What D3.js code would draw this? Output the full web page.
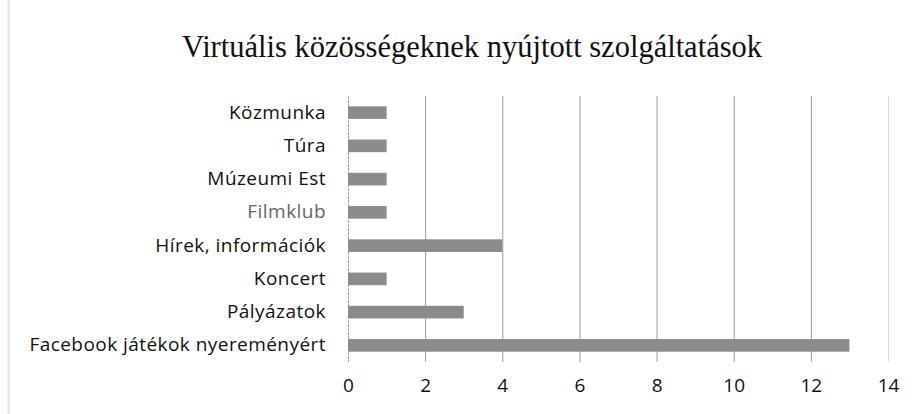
<!DOCTYPE html>
<html>
<head>
<meta charset="utf-8">
<script src="https://cdn.jsdelivr.net/npm/d3@7"></script>
<style>
  body { margin: 0; background: #fff; }
  svg { display: block; }
</style>
</head>
<body>
<svg id="chart" width="917" height="414"></svg>
<script>
// data, top to bottom
var categories = ["Közmunka", "Túra", "Múzeumi Est", "Filmklub", "Hírek, információk", "Koncert", "Pályázatok", "Facebook játékok nyereményért"];
var values = [1, 1, 1, 1, 4, 1, 3, 13];
var xTicks = [0, 2, 4, 6, 8, 10, 12, 14];

var svg = d3.select("#chart");

// faint page border at the left
svg.append("line")
    .attr("x1", 8.5).attr("x2", 8.5)
    .attr("y1", 0).attr("y2", 414)
    .style("stroke", "#e2e2e2")
    .style("stroke-width", 2);

var x = d3.scaleLinear().domain([0, 14]).range([348, 888]);
var y = d3.scaleBand().domain(categories).range([96, 362]).paddingInner(0.62).paddingOuter(0.31);

// title
svg.append("text")
    .attr("x", 472)
    .attr("y", 57)
    .attr("text-anchor", "middle")
    .style("font-family", "'Liberation Serif', 'Times New Roman', serif")
    .style("font-size", "30.5px")
    .style("fill", "#111")
    .text("Virtuális közösségeknek nyújtott szolgáltatások");

// vertical gridlines
svg.append("g")
    .selectAll("line")
    .data(xTicks)
    .enter().append("line")
    .attr("x1", function(d) { return x(d) + 0.5; })
    .attr("x2", function(d) { return x(d) + 0.5; })
    .attr("y1", 96)
    .attr("y2", 362)
    .style("stroke", function(d) { return d == 14 ? "#d8d8d8" : "#9a9a9a"; })
    .style("stroke-width", 1)
    .style("stroke-dasharray", function(d) { return d == 0 ? "3,1" : null; });

// bars
svg.append("g")
    .selectAll("rect")
    .data(values)
    .enter().append("rect")
    .attr("x", x(0))
    .attr("y", function(d, i) { return y(categories[i]); })
    .attr("width", function(d) { return x(d) - x(0); })
    .attr("height", y.bandwidth())
    .style("fill", "#8b8b8b");

// category labels
var yAxis = d3.axisLeft(y).tickSize(0).tickPadding(22);
var gy = svg.append("g")
    .attr("transform", "translate(" + x(0) + ",0)")
    .call(yAxis);
gy.select(".domain").remove();
gy.selectAll("text")
    .style("font-family", "'Open Sans', sans-serif")
    .style("font-size", "19px")
    .style("letter-spacing", "0.45px")
    .style("fill", function(d) { return d == "Filmklub" ? "#666" : "#111"; });

// x tick labels
var xAxis = d3.axisBottom(x).tickValues(xTicks).tickSize(0).tickPadding(0);
var gx = svg.append("g")
    .attr("transform", "translate(0,378)")
    .call(xAxis);
gx.select(".domain").remove();
gx.selectAll("text")
    .style("font-family", "'Open Sans', sans-serif")
    .style("font-size", "19px")
    .style("fill", "#111");
</script>
</body>
</html>
